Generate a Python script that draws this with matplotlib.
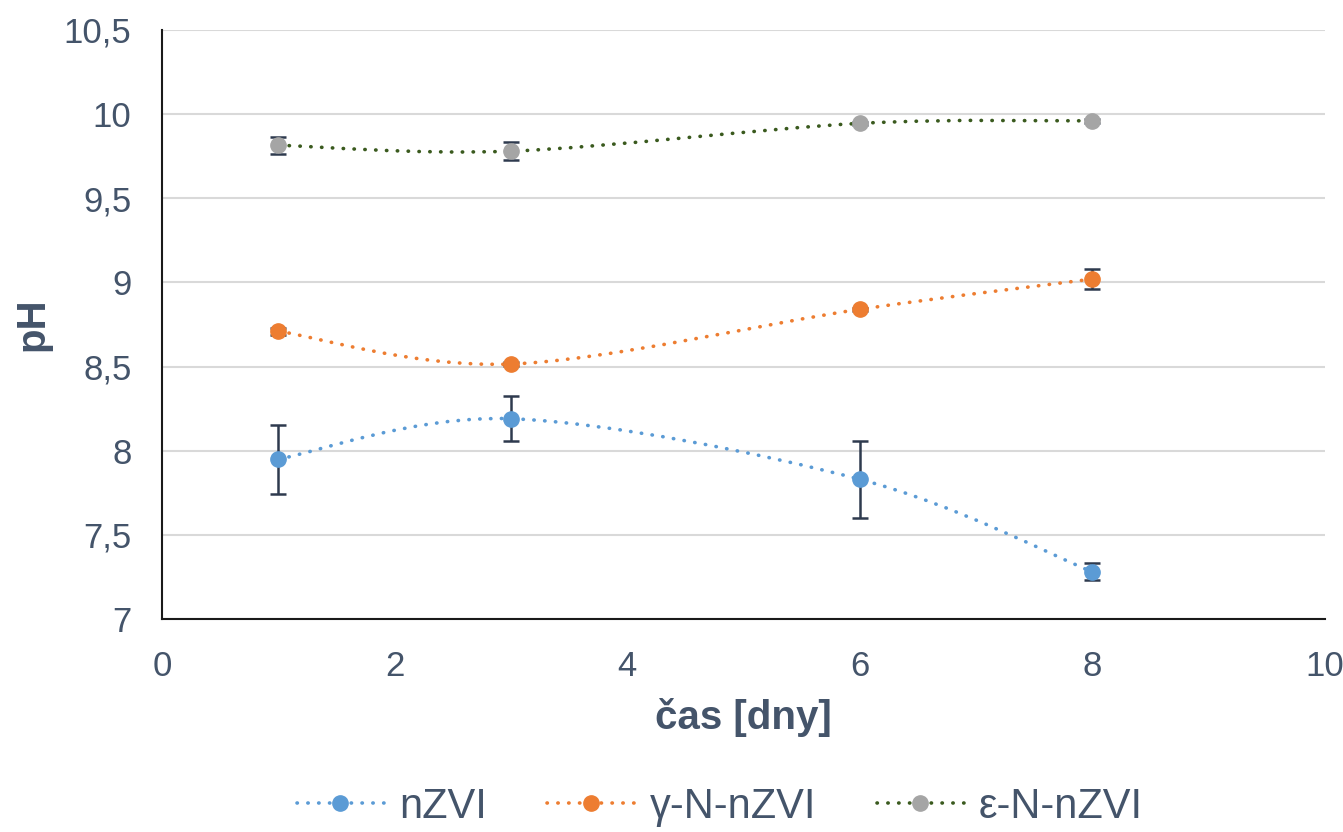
import numpy as np
import matplotlib
matplotlib.use('Agg')
import matplotlib.pyplot as plt
from matplotlib.path import Path
from matplotlib.patches import PathPatch
from matplotlib.lines import Line2D

plt.rcParams['font.family'] = ['Liberation Sans', 'DejaVu Sans']

days = [1, 3, 6, 8]
series_names = ['nZVI', 'γ-N-nZVI', 'ε-N-nZVI']
ph_nzvi = [7.95, 8.19, 7.83, 7.28]
err_nzvi = [0.205, 0.135, 0.23, 0.05]
ph_gamma = [8.71, 8.515, 8.84, 9.02]
err_gamma = [0.02, 0.01, 0.01, 0.06]
ph_eps = [9.815, 9.78, 9.945, 9.96]
err_eps = [0.05, 0.055, 0.01, 0.01]

marker_colors = ['#5B9BD5', '#ED7D31', '#A5A5A5']
line_colors = ['#5B9BD5', '#ED7D31', '#3A5A1E']
txt = '#44546A'
errc = '#2E3A4E'


def smooth_path(x, y):
    # Excel-like smoothed line: cubic bezier through the points
    p = np.column_stack([x, y]).astype(float)
    n = len(p)
    verts = [p[0]]
    codes = [Path.MOVETO]
    for i in range(n - 1):
        p0 = p[i - 1] if i > 0 else p[i]
        p3 = p[i + 2] if i + 2 < n else p[i + 1]
        c1 = p[i] + (p[i + 1] - p0) / 6
        c2 = p[i + 1] - (p3 - p[i]) / 6
        verts += [c1, c2, p[i + 1]]
        codes += [Path.CURVE4] * 3
    return Path(verts, codes)


fig = plt.figure(figsize=(13.43, 8.32), dpi=100)
ax = fig.add_axes([0.1206, 0.256, 0.866, 0.708])

data = [(ph_nzvi, err_nzvi), (ph_gamma, err_gamma), (ph_eps, err_eps)]
handles = []
for (vals, errs), mc, lc, name in zip(data, marker_colors, line_colors, series_names):
    patch = PathPatch(smooth_path(days, vals), fill=False, edgecolor=lc, lw=2.6,
                      linestyle=(0, (0.1, 2.9)), capstyle='round', zorder=2)
    ax.add_patch(patch)
    ax.errorbar(days, vals, yerr=errs, fmt='none', ecolor=errc, elinewidth=1.8,
                capsize=5.5, capthick=1.8, zorder=3)
    ax.plot(days, vals, 'o', color=mc, markersize=11, zorder=4)
    handles.append(Line2D([0], [0], color=lc, lw=2.6, linestyle=(0, (0.1, 2.9)),
                          dash_capstyle='round', marker='o', markersize=11,
                          markerfacecolor=mc, markeredgecolor=mc, label=name))

ax.set_xlim(0, 10)
ax.set_ylim(7, 10.5)
ax.set_xticks([0, 2, 4, 6, 8, 10])
ax.set_yticks([7, 7.5, 8, 8.5, 9, 9.5, 10, 10.5])
ax.set_yticklabels(['7', '7,5', '8', '8,5', '9', '9,5', '10', '10,5'])
ax.tick_params(length=0, labelsize=25, labelcolor=txt)
ax.tick_params(axis='y', pad=22)
ax.tick_params(axis='x', pad=22)
ax.grid(axis='y', color='#D9D9D9', lw=1.5)
ax.set_axisbelow(True)
for s in ['top', 'right']:
    ax.spines[s].set_visible(False)
for s in ['left', 'bottom']:
    ax.spines[s].set_color('#1a1a1a')
    ax.spines[s].set_linewidth(1.5)

ax.set_xlabel('čas [dny]', fontsize=29, fontweight='bold', color=txt, va='center')
ax.set_ylabel('pH', fontsize=29, fontweight='bold', color=txt, va='center')
ax.xaxis.set_label_coords(0.5, -0.168)
ax.yaxis.set_label_coords(-0.111, 0.5)

fig.legend(handles=handles, loc='center', bbox_to_anchor=(0.536, 0.03), ncol=3,
           frameon=False, fontsize=30, labelcolor=txt, handlelength=2.1,
           columnspacing=1.45, handletextpad=0.36)

fig.savefig('out.png', dpi=100)
